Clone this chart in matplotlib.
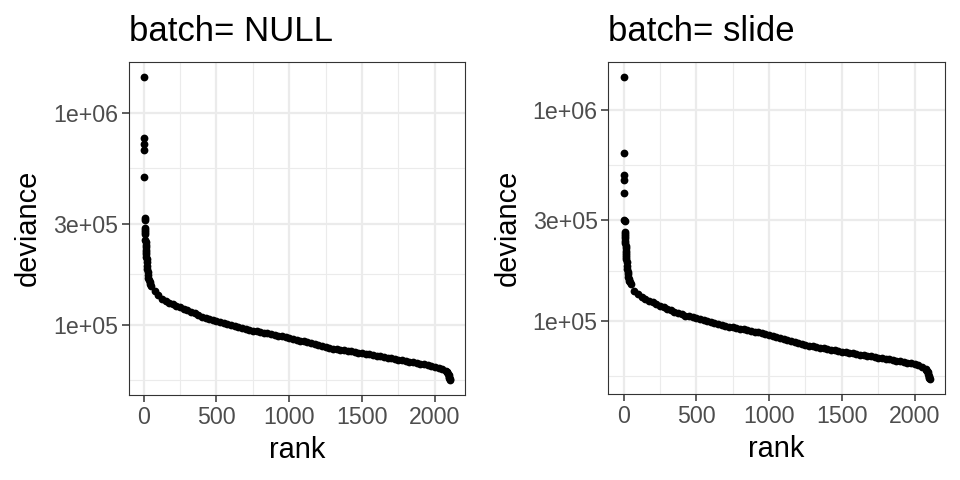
#!/usr/bin/env python3
import numpy as np
import matplotlib
matplotlib.use("Agg")
import matplotlib.pyplot as plt
from matplotlib.ticker import FixedLocator, FixedFormatter, NullFormatter

# deviance par rang
titles = ["batch= NULL", "batch= slide"]

head_rank = [1, 2, 3, 4, 5, 6, 7, 8, 9, 10, 11, 12, 13, 14, 15, 16, 17, 18, 19, 20,
             22, 24, 26, 28, 30, 33, 36, 40, 44]
body_rank = np.arange(50, 2076, 25)
tail_rank = [2080, 2085, 2090, 2094, 2097, 2099, 2101, 2102]

null_head = [1.475e6, 7.62e5, 7.10e5, 6.67e5, 4.96e5, 3.18e5, 3.12e5, 2.86e5, 2.80e5, 2.74e5,
             2.67e5, 2.52e5, 2.45e5, 2.38e5, 2.32e5, 2.26e5, 2.20e5, 2.15e5, 2.10e5, 2.05e5,
             1.98e5, 1.90e5, 1.83e5, 1.77e5, 1.72e5, 1.67e5, 1.63e5, 1.59e5, 1.56e5]
null_body = [1.53e5, 1.44e5, 1.38e5, 1.33e5, 1.30e5, 1.27e5, 1.25e5, 1.23e5, 1.21e5, 1.19e5,
             1.17e5, 1.155e5, 1.135e5, 1.115e5, 1.094e5, 1.08e5, 1.067e5, 1.055e5, 1.043e5, 1.03e5,
             1.02e5, 1.01e5, 1.00e5, 9.90e4, 9.80e4, 9.70e4, 9.60e4, 9.50e4, 9.41e4, 9.34e4,
             9.27e4, 9.20e4, 9.13e4, 9.05e4, 8.98e4, 8.91e4, 8.83e4, 8.75e4, 8.67e4, 8.59e4,
             8.51e4, 8.43e4, 8.36e4, 8.28e4, 8.20e4, 8.11e4, 8.02e4, 7.93e4, 7.85e4, 7.79e4,
             7.73e4, 7.69e4, 7.64e4, 7.59e4, 7.55e4, 7.50e4, 7.45e4, 7.40e4, 7.36e4, 7.31e4,
             7.26e4, 7.21e4, 7.16e4, 7.11e4, 7.05e4, 7.00e4, 6.95e4, 6.89e4, 6.84e4, 6.80e4,
             6.75e4, 6.71e4, 6.66e4, 6.61e4, 6.56e4, 6.51e4, 6.47e4, 6.42e4, 6.36e4, 6.28e4,
             6.18e4, 6.07e4]
null_tail = [6.03e4, 5.97e4, 5.89e4, 5.80e4, 5.71e4, 5.63e4, 5.56e4, 5.51e4]

slide_head = [1.44e6, 6.27e5, 4.91e5, 4.65e5, 4.03e5, 3.02e5, 2.98e5, 2.64e5, 2.58e5, 2.52e5,
              2.46e5, 2.40e5, 2.33e5, 2.27e5, 2.21e5, 2.15e5, 2.10e5, 2.05e5, 2.00e5, 1.96e5,
              1.89e5, 1.82e5, 1.76e5, 1.71e5, 1.67e5, 1.62e5, 1.58e5, 1.55e5, 1.52e5]
slide_body = [1.49e5, 1.39e5, 1.34e5, 1.30e5, 1.265e5, 1.24e5, 1.22e5, 1.20e5, 1.18e5, 1.16e5,
              1.14e5, 1.125e5, 1.105e5, 1.09e5, 1.07e5, 1.058e5, 1.047e5, 1.036e5, 1.025e5, 1.013e5,
              1.002e5, 9.91e4, 9.82e4, 9.73e4, 9.64e4, 9.55e4, 9.45e4, 9.36e4, 9.28e4, 9.22e4,
              9.15e4, 9.09e4, 9.02e4, 8.94e4, 8.88e4, 8.80e4, 8.72e4, 8.64e4, 8.55e4, 8.46e4,
              8.37e4, 8.28e4, 8.19e4, 8.10e4, 8.01e4, 7.92e4, 7.83e4, 7.74e4, 7.64e4, 7.59e4,
              7.54e4, 7.50e4, 7.45e4, 7.40e4, 7.35e4, 7.29e4, 7.23e4, 7.18e4, 7.13e4, 7.08e4,
              7.04e4, 6.99e4, 6.94e4, 6.90e4, 6.85e4, 6.81e4, 6.76e4, 6.72e4, 6.67e4, 6.63e4,
              6.58e4, 6.54e4, 6.49e4, 6.45e4, 6.40e4, 6.35e4, 6.31e4, 6.26e4, 6.20e4, 6.13e4,
              6.05e4, 5.92e4]
slide_tail = [5.86e4, 5.78e4, 5.68e4, 5.57e4, 5.47e4, 5.39e4, 5.33e4, 5.29e4]

x_ticks = [0, 500, 1000, 1500, 2000]
x_minor = [250, 750, 1250, 1750]
y_ticks = [1e5, 3e5, 1e6]
y_labels = ["1e+05", "3e+05", "1e+06"]
y_minor = [5.48e4, 1.73e5, 5.48e5]

plt.rcParams["font.family"] = ["Liberation Sans", "DejaVu Sans"]

fig = plt.figure(figsize=(9.6, 4.8), dpi=100)
panels = [
    (fig.add_axes([0.1339, 0.1771, 0.3505, 0.6944]), null_head, null_body, null_tail),
    (fig.add_axes([0.6337, 0.1792, 0.3505, 0.6923]), slide_head, slide_body, slide_tail),
]

for (ax, head, body, tail), title in zip(panels, titles):
    rank = np.concatenate([head_rank, body_rank, tail_rank])
    dev = np.concatenate([head, body, tail])
    ax.plot(rank, dev, "o", color="black", ms=5.6, mew=0)

    ax.set_yscale("log")
    ax.margins(0.05)
    ax.xaxis.set_major_locator(FixedLocator(x_ticks))
    ax.xaxis.set_minor_locator(FixedLocator(x_minor))
    ax.yaxis.set_major_locator(FixedLocator(y_ticks))
    ax.yaxis.set_major_formatter(FixedFormatter(y_labels))
    ax.yaxis.set_minor_locator(FixedLocator(y_minor))
    ax.yaxis.set_minor_formatter(NullFormatter())

    # theme_bw
    ax.set_axisbelow(True)
    ax.grid(which="major", color="#EBEBEB", lw=1.6)
    ax.grid(which="minor", color="#EBEBEB", lw=0.8)
    ax.tick_params(which="minor", length=0)
    ax.tick_params(which="major", length=4.7, width=1.1, color="#333333",
                   labelsize=16.7, labelcolor="#4D4D4D", pad=3)
    for sp in ax.spines.values():
        sp.set_color("#333333")
        sp.set_linewidth(0.8)

    ax.set_xlabel("rank", fontsize=20.9, labelpad=5)
    ax.set_ylabel("deviance", fontsize=20.9, labelpad=8)
    ax.set_title(title, loc="left", fontsize=25, pad=15)

fig.savefig("out.png", dpi=100)
